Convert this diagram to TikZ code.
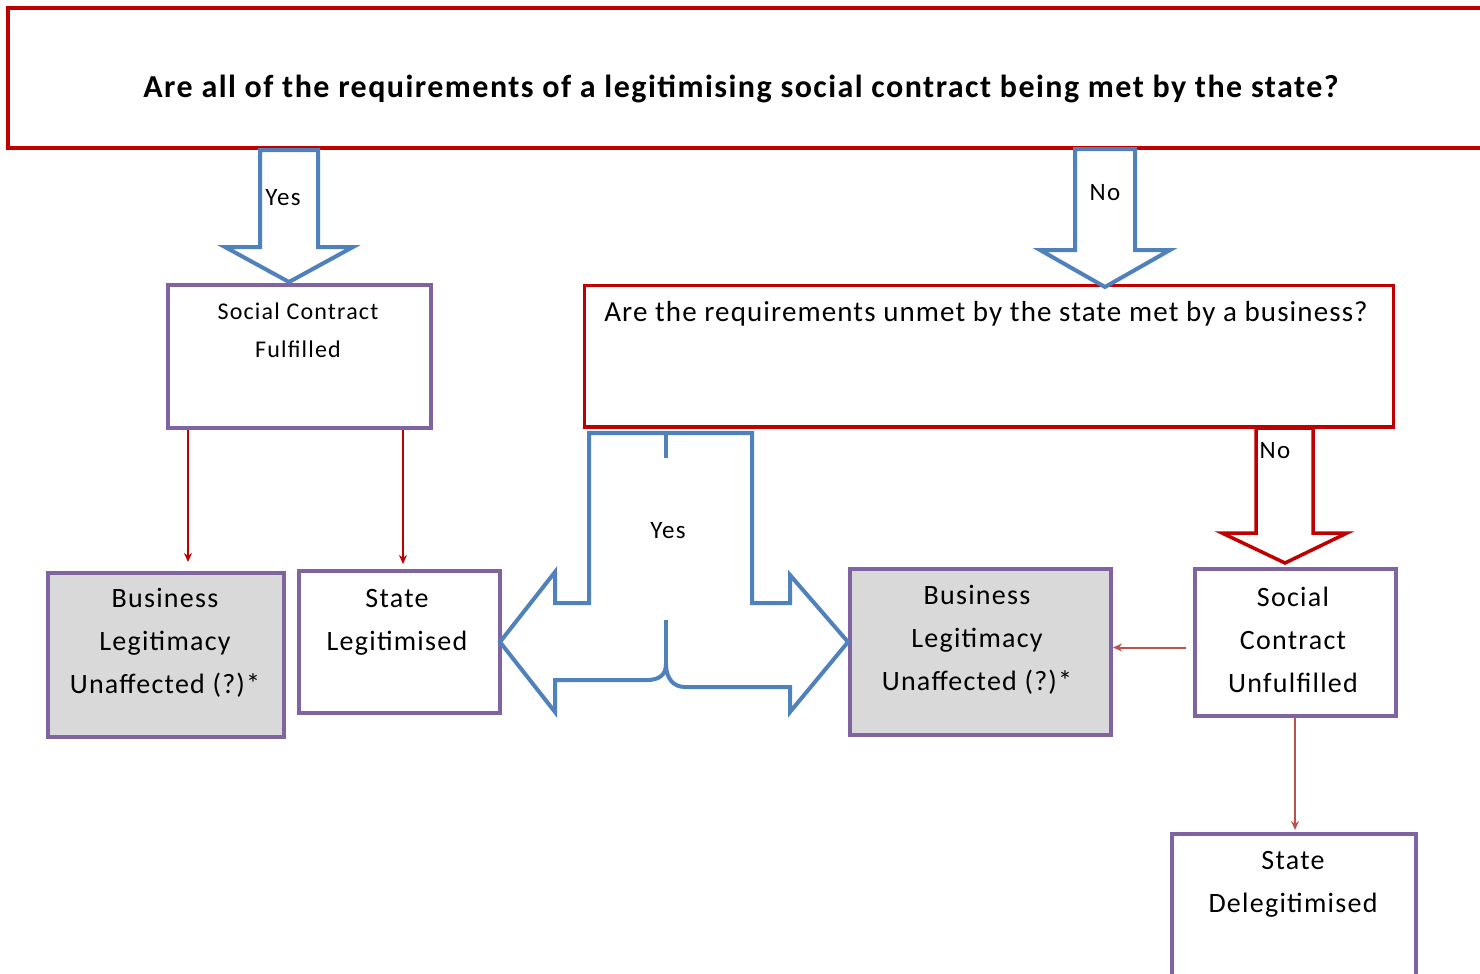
\documentclass[tikz,border=0pt]{standalone}
\usepackage{fontspec}
\setmainfont{Carlito}
\newfontfamily\wideA[LetterSpace=4.6]{Carlito}
\newfontfamily\wideB[LetterSpace=4.5]{Carlito}
\newfontfamily\wideC[LetterSpace=5]{Carlito}
\newfontfamily\wideD[LetterSpace=3.8]{Carlito}
\usetikzlibrary{arrows.meta}
\definecolor{redD}{HTML}{C00000}
\definecolor{redL}{HTML}{C0504D}
\definecolor{blueA}{HTML}{4F81BD}
\definecolor{purp}{HTML}{8064A2}
\definecolor{grayF}{HTML}{D9D9D9}
\begin{document}
\begin{tikzpicture}[x=1pt,y=-1pt,
  redbox/.style={draw=redD,line width=3pt,fill=white,rectangle,inner sep=0pt},
  purpbox/.style={draw=purp,line width=4pt,fill=white,rectangle,inner sep=0pt},
  graybox/.style={purpbox,fill=grayF},
  blockblue/.style={draw=blueA,line width=4pt,fill=white,line join=miter},
  blockred/.style={draw=redD,line width=3.5pt,fill=white,line join=miter},
  thinarr/.style={draw=redD,line width=2pt,-{Stealth[length=9pt,width=8pt]}},
  thinarrL/.style={draw=redL,line width=2pt,-{Stealth[length=9pt,width=8pt]}},
  boxtext/.style={align=center,inner sep=0pt,font=\wideB\fontsize{28}{43}\selectfont},
  smalltext/.style={align=center,inner sep=0pt,font=\wideC\fontsize{24}{38}\selectfont},
  lbl/.style={inner sep=0pt,font=\wideC\fontsize{25}{28}\selectfont}]
\useasboundingbox (0,0) rectangle (1480,974);
\clip (0,0) rectangle (1480,974);
\fill[white] (0,0) rectangle (1480,974);

% boxes
\node[redbox,line width=4pt,minimum width=1490pt,minimum height=139pt] (q1) at (753,78) {};
\node[redbox,minimum width=809pt,minimum height=141pt] (q2) at (988.5,355.5) {};
\node[purpbox,minimum width=263pt,minimum height=143pt] (scf) at (299.5,356.5) {};
\node[graybox,minimum width=236pt,minimum height=164pt] (blu1) at (166,655) {};
\node[purpbox,minimum width=201pt,minimum height=142pt] (sl) at (399.5,642) {};
\node[graybox,minimum width=261pt,minimum height=166pt] (blu2) at (980.5,652) {};
\node[purpbox,minimum width=201pt,minimum height=147pt] (scu) at (1295.5,642.5) {};
\node[purpbox,minimum width=244pt,minimum height=170pt] (sd) at (1294,919) {};

% block arrows
\draw[blockblue] (260,150) -- (260,247) -- (225,247) -- (289,282) -- (353,247) -- (318,247) -- (318,150) -- cycle;
\draw[blockblue] (1075,149) -- (1075,250) -- (1040,250) -- (1105,287) -- (1170,250) -- (1135,250) -- (1135,149) -- cycle;
\draw[blockred] (1256,428) -- (1256,533) -- (1222,533) -- (1285,563) -- (1347,533) -- (1313,533) -- (1313,428) -- cycle;
\draw[draw=redD,line width=3pt] (q2.south west) -- (q2.south east);

% central double arrow
\draw[blockblue] (589,433) -- (752,433) -- (752,603) -- (790,603) -- (790,575) -- (848,642) -- (790,712) -- (790,687) -- (685,687)
  .. controls (673,687) and (666,678) .. (666,664)
  .. controls (666,675) and (659,680) .. (647,680)
  -- (555,680) -- (555,712) -- (500,642) -- (555,572) -- (555,603) -- (589,603) -- cycle;
\draw[blueA,line width=4pt] (666,433) -- (666,458);
\draw[blueA,line width=4pt] (666,620) -- (666,664);

% thin arrows
\draw[thinarr,shorten >=9pt] ([xshift=22pt]scf.south west) -- ([xshift=22pt]scf.south west |- blu1.north);
\draw[thinarr,shorten >=5pt] ([xshift=-30pt]scf.south east) -- ([xshift=-30pt]scf.south east |- sl.north);
\draw[thinarrL,shorten <=7pt] ([yshift=-5pt]scu.west) -- ([yshift=-5pt]scu.west -| blu2.east);
\draw[thinarrL,shorten >=2pt] ([xshift=-0.5pt]scu.south) -- ([xshift=-0.5pt]scu.south |- sd.north);

% texts
\node[inner sep=0pt,font=\wideA\fontsize{32}{36}\selectfont\bfseries] (t1) at (741,89) {Are all of the requirements of a legitimising social contract being met by the state?};
\node[lbl] (yes1) at (283,198) {Yes};
\node[lbl] (no1) at (1105,193) {No};
\node[smalltext] (tscf) at (298,330) {Social Contract\\Fulfilled};
\node[inner sep=0pt,font=\wideD\fontsize{29}{32}\selectfont] (tq2) at (986,314) {Are the requirements unmet by the state met by a business?};
\node[boxtext] (tblu1) at (165,643) {Business\\Legitimacy\\Unaffected (?)*};
\node[boxtext] (tsl) at (397,622) {State\\Legitimised};
\node[lbl] (yes2) at (668,531) {Yes};
\node[boxtext] (tblu2) at (977,640) {Business\\Legitimacy\\Unaffected (?)*};
\node[boxtext] (tscu) at (1293,640) {Social\\Contract\\Unfulfilled};
\node[lbl] (no2) at (1275,451) {No};
\node[boxtext] (tsd) at (1293,884) {State\\Delegitimised};
\end{tikzpicture}
\end{document}
